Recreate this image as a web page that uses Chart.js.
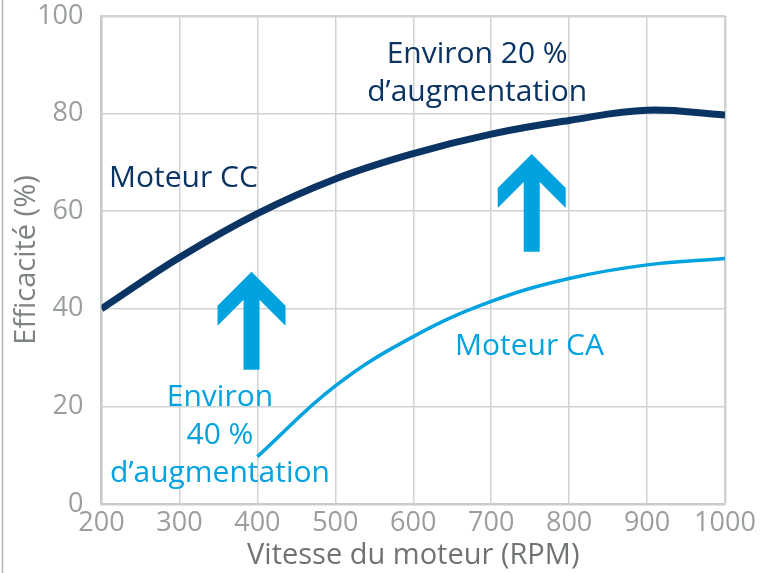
<!DOCTYPE html>
<html>
<head>
<meta charset="utf-8">
<script src="https://cdn.jsdelivr.net/npm/chart.js@4"></script>
<style>
  html, body { margin: 0; padding: 0; background: #fff; }
  #wrap { width: 767px; height: 573px; position: relative; }
</style>
</head>
<body>
<div id="wrap"><canvas id="chart"></canvas></div>
<script>
// axes
const rpmTicks = [200, 300, 400, 500, 600, 700, 800, 900, 1000];
const rpmLabels = ["200", "300", "400", "500", "600", "700", "800", "900", "1000"];
const effTicks = [0, 20, 40, 60, 80, 100];
const effLabels = ["0", "20", "40", "60", "80", "100"];

// Moteur CC (DC motor)
const ccRpm = [200, 300, 400, 500, 600, 700, 800, 900, 1000];
const ccEff = [40, 50.5, 59.5, 66.6, 71.8, 75.8, 78.6, 80.7, 79.7];

// Moteur CA (AC motor)
const caRpm = [400, 500, 600, 700, 800, 900, 1000];
const caEff = [9.7, 24.2, 34.3, 41.5, 46.2, 49, 50.3];

const navy = "#0a3463";
const cyan = "#00a2df";
const font = "'Open Sans', 'Noto Sans', sans-serif";

// annotation texts and arrows, anchored in data units
const notes = [
    { lines: ["Moteur CC"], x: 209.6, y: 65, align: "left", color: navy },
    { lines: ["Environ 20 %", "d’augmentation"], x: 682, y: 90.4, align: "center", color: navy },
    { lines: ["Moteur CA"], x: 653.6, y: 30.5, align: "left", color: cyan },
    { lines: ["Environ", "40 %", "d’augmentation"], x: 352, y: 20.1, align: "center", color: cyan }
];
const arrows = [
    { x: 392.5, top: 47.6, bottom: 27.5 },
    { x: 752, top: 71.7, bottom: 51.7 }
];

const notesPlugin = {
    id: "notes",
    beforeDraw(chart) {
        let c = chart.ctx;
        c.save();
        c.strokeStyle = "#b3b7b8";
        c.lineWidth = 1.5;
        c.beginPath();
        c.moveTo(2.5, 0);
        c.lineTo(2.5, chart.height);
        c.stroke();
        c.restore();
    },
    afterDatasetsDraw(chart) {
        let c = chart.ctx;
        let sx = chart.scales.x, sy = chart.scales.y;
        c.save();
        c.fillStyle = cyan;
        arrows.forEach(a => {
            let cx = sx.getPixelForValue(a.x);
            let ty = sy.getPixelForValue(a.top);
            let by = sy.getPixelForValue(a.bottom);
            c.beginPath();
            c.moveTo(cx, ty);
            c.lineTo(cx - 34, ty + 34);
            c.lineTo(cx - 34, ty + 54);
            c.lineTo(cx - 8, ty + 28);
            c.lineTo(cx - 8, by);
            c.lineTo(cx + 8, by);
            c.lineTo(cx + 8, ty + 28);
            c.lineTo(cx + 34, ty + 54);
            c.lineTo(cx + 34, ty + 34);
            c.closePath();
            c.fill();
        });
        c.font = "30px " + font;
        c.textBaseline = "alphabetic";
        notes.forEach(n => {
            let px = sx.getPixelForValue(n.x);
            let py = sy.getPixelForValue(n.y);
            c.fillStyle = n.color;
            c.textAlign = n.align;
            n.lines.forEach((t, i) => c.fillText(t, px, py + i * 38));
        });
        c.restore();
    }
};

let ctx = document.getElementById("chart").getContext("2d");

new Chart(ctx, {
    type: "line",
    data: {
        datasets: [{
            label: "Moteur CC",
            data: ccRpm.map((r, i) => ({ x: r, y: ccEff[i] })),
            borderColor: navy,
            borderWidth: 7,
            pointRadius: 0,
            tension: 0.4
        }, {
            label: "Moteur CA",
            data: caRpm.map((r, i) => ({ x: r, y: caEff[i] })),
            borderColor: cyan,
            borderWidth: 3.5,
            pointRadius: 0,
            tension: 0.4
        }]
    },
    options: {
        responsive: true,
        maintainAspectRatio: false,
        animation: false,
        layout: { padding: { left: 3, right: 42, top: 16, bottom: 0 } },
        plugins: {
            legend: { display: false },
            tooltip: { enabled: false }
        },
        scales: {
            x: {
                type: "linear",
                min: 200,
                max: 1000,
                afterBuildTicks: s => { s.ticks = rpmTicks.map(v => ({ value: v })); },
                afterFit: s => {
                    s.height = 69;
                    s.paddingLeft = 0;
                    s.paddingRight = 0;
                },
                grid: {
                    color: "#d0d3d4",
                    lineWidth: c => (c.tick && c.tick.value === 1000 ? 2.5 : 1.5),
                    drawTicks: false
                },
                border: { color: "#c8cccd", width: 2.5 },
                ticks: {
                    color: "#9a9e9f",
                    font: { family: font, size: 27 },
                    padding: 3,
                    maxRotation: 0,
                    autoSkip: false,
                    callback: (v, i) => rpmLabels[i]
                },
                title: {
                    display: true,
                    text: "Vitesse du moteur (RPM)",
                    color: "#6f7374",
                    font: { family: font, size: 29 },
                    padding: { top: 0, bottom: 0 }
                }
            },
            y: {
                min: 0,
                max: 100,
                afterBuildTicks: s => { s.ticks = effTicks.map(v => ({ value: v })); },
                afterFit: s => {
                    s.width = 98.5;
                    s.paddingTop = 0;
                    s.paddingBottom = 0;
                },
                grid: {
                    color: "#d0d3d4",
                    lineWidth: c => (c.tick && c.tick.value === 100 ? 2.5 : 1.5),
                    drawTicks: false
                },
                border: { color: "#c8cccd", width: 2.5 },
                ticks: {
                    color: "#9a9e9f",
                    font: { family: font, size: 27 },
                    padding: 18,
                    callback: (v, i) => effLabels[i]
                },
                title: {
                    display: true,
                    text: "Efficacité (%)",
                    color: "#7d8283",
                    font: { family: font, size: 29 },
                    padding: { top: 6, bottom: 0 }
                }
            }
        }
    },
    plugins: [notesPlugin]
});
</script>
</body>
</html>
